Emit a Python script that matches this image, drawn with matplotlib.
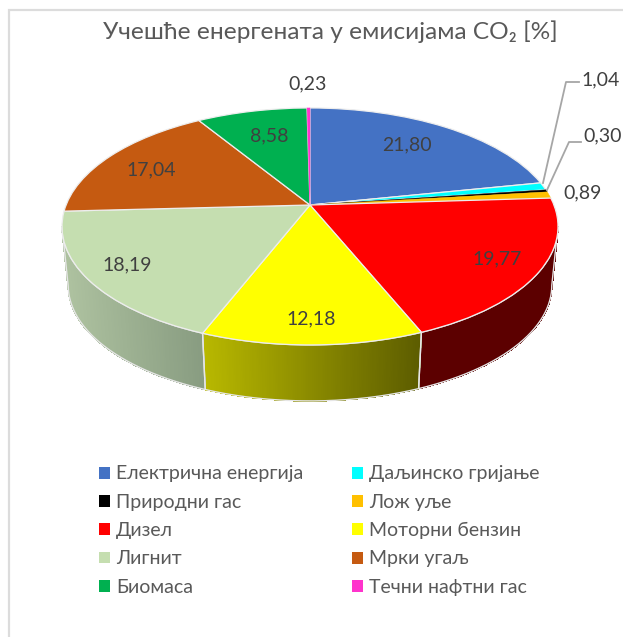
import numpy as np
import matplotlib
matplotlib.use("Agg")
import matplotlib.pyplot as plt
from matplotlib.patches import Patch, PathPatch
from matplotlib.path import Path
from matplotlib.collections import PolyCollection
from matplotlib.transforms import Transform

plt.rcParams['font.family'] = ['Lato', 'Noto Sans', 'DejaVu Sans']

title = "Учешће енергената у емисијама CO₂ [%]"
categories = ["Електрична енергија", "Даљинско гријање", "Природни гас", "Лож уље",
              "Дизел", "Моторни бензин", "Лигнит", "Мрки угаљ", "Биомаса", "Течни нафтни гас"]
values = [21.80, 1.04, 0.30, 0.89, 19.77, 12.18, 18.19, 17.04, 8.58, 0.23]
colors = ["#4472C4", "#00FFFF", "#000000", "#FFC000", "#FF0000",
          "#FFFF00", "#C5DEB0", "#C55A11", "#00B050", "#FF33CC"]

W, H = 623, 637
CX, CY, A, B, K = 310.0, 205.0, 243.9, 114.6, 0.181
DEPTH_Y, DEPTH_S = 59.5, 0.975


class Tilt(Transform):
    """Perspective view of the unit-circle pie, mapped to pixel-like data coordinates."""
    input_dims = output_dims = 2

    def __init__(self, scale=1.0, dy=0.0):
        super().__init__()
        self.scale, self.dy = scale, dy

    def transform_non_affine(self, xy):
        xy = np.asarray(xy, float)
        w = 1 + K * xy[:, 1]
        return np.column_stack([CX + self.scale * A * xy[:, 0] / w,
                                CY + self.dy - self.scale * B * xy[:, 1] / w])


top, bottom = Tilt(), Tilt(DEPTH_S, DEPTH_Y)

fig = plt.figure(figsize=(W / 100, H / 100), dpi=100)
ax = fig.add_axes([0, 0, 1, 1])
wedges, _ = ax.pie(values, colors=colors, startangle=90, counterclock=False, radius=1,
                   wedgeprops=dict(edgecolor="#EDEDED", linewidth=0.9))
ax.set_aspect("auto")
for v, w, c in zip(values, wedges, colors):
    w.set_transform(top + ax.transData)
    w.set_zorder(5)
    if v < 1.0:
        w.set_edgecolor(c)
        w.set_linewidth(0.3)

# frame: only the top and left rules are visible
ax.plot([9, 9, W], [H, 10, 10], color="#DCDCDC", lw=1.6, zorder=1, solid_joinstyle="miter")

# side wall, slice by slice, between the slice boundaries
cum = np.cumsum([0] + values)
edge_deg = 90 - cum / sum(values) * 360
silhouette = np.degrees(np.arcsin(K))
walls = {4: ("#5C0000", "#5C0000"), 5: ("#B8B800", "#5C5C00"), 6: ("#AEC2A0", "#879B80")}
for i, (cl, cr) in walls.items():
    t1 = min(edge_deg[i], -silhouette)
    t2 = max(edge_deg[i + 1], -180 + silhouette)
    t = np.radians(np.linspace(t1, t2, 120))
    uv = np.column_stack([np.cos(t), np.sin(t)])
    p_top, p_bot = top.transform(uv), bottom.transform(uv)
    poly = np.vstack([p_top, p_bot[::-1], p_top[:1]])
    x0, x1 = poly[:, 0].min(), poly[:, 0].max()
    rgb_l, rgb_r = np.array(matplotlib.colors.to_rgb(cl)), np.array(matplotlib.colors.to_rgb(cr))
    strips, strip_cols = [], []
    for j in range(len(t) - 1):
        strips.append([p_top[j], p_top[j + 1], p_bot[j + 1], p_bot[j]])
        f = (0.5 * (p_top[j, 0] + p_top[j + 1, 0]) - x0) / (x1 - x0)
        strip_cols.append(rgb_l + (rgb_r - rgb_l) * f)
    ax.add_collection(PolyCollection(strips, facecolors=strip_cols, edgecolors=strip_cols,
                                     linewidths=0.5, antialiaseds=False, zorder=3))
    ax.add_patch(PathPatch(Path(poly), fc="none", ec="#E6E6E6", lw=1.0, zorder=4))
ax.set_xlim(0, W)
ax.set_ylim(H, 0)

# title
ax.text(330, 32, title, ha="center", va="center", fontsize=17.6, color="#595959", zorder=10)

# data labels
label_xy = [(407, 145), (601, 80), (603, 136), (583, 193), (497, 259),
            (311, 319), (127, 265), (151, 170), (269, 136), (308, 84)]
for v, (x, y) in zip(values, label_xy):
    ax.text(x, y, f"{v:.2f}".replace(".", ","), ha="center", va="center",
            fontsize=14, color="#404040", zorder=10)

# leader lines
ax.plot([543, 566, 579], [183, 82, 82], color="#A6A6A6", lw=1.3, zorder=9)
ax.plot([547, 569, 581], [190, 142, 142], color="#A6A6A6", lw=1.3, zorder=9)

# legend (row order left-right, matplotlib fills by column)
order = list(range(0, 10, 2)) + list(range(1, 10, 2))
handles = [Patch(fc=colors[i], ec="none", label=categories[i]) for i in order]
ax.legend(handles=handles, ncols=2, frameon=False, fontsize=14, labelcolor="#595959",
          loc="upper left", bbox_to_anchor=(99 / W, 1 - 465.5 / H),
          handlelength=0.565, handleheight=0.565, handletextpad=0.31,
          labelspacing=0.58, columnspacing=2.5, borderpad=0, borderaxespad=0)

ax.set_axis_off()
fig.savefig("out.png", dpi=100)
